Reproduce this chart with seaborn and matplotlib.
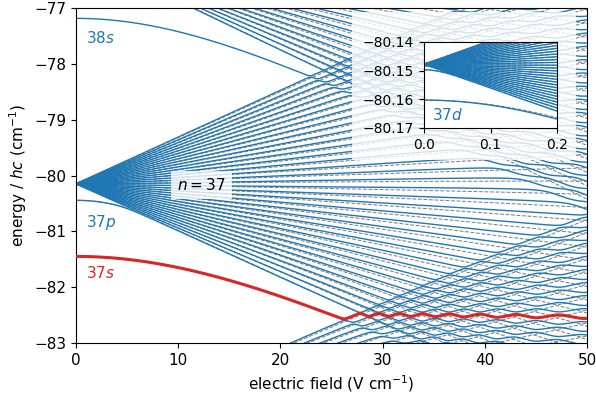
import numpy as np
import pandas as pd
import seaborn as sns
import matplotlib.pyplot as plt
from matplotlib.patches import Rectangle

# helium triplet Stark map around n = 37, computed in an |n, l, m> basis
R_HE = 109722.27            # cm^-1
HARTREE = 219474.63         # cm^-1
F_AU = 5.14220674763e9      # V/cm
n_values = np.arange(34, 42)
defects = [0.2967, 0.0683, 0.00289, 0.00045, 0.00012]   # s, p, d, f, g
field_main = np.linspace(0, 50, 301)
field_inset = np.linspace(0, 0.2, 41)
ylim_main = (-83, -77)
ylim_inset = (-80.17, -80.14)
labels = ['38$s$', '37$p$', '37$s$']
label_y = [-77.63, -80.93, -81.83]
label_colors = ['tab:blue', 'tab:blue', 'tab:red']

plt.rcParams['font.size'] = 11

basis = pd.DataFrame([(n, l) for n in n_values for l in range(n)], columns=['n', 'l'])
basis['nstar'] = basis.n - [defects[l] if l < len(defects) else 0.0 for l in basis.l]
basis['E0'] = -R_HE / basis.nstar ** 2

# radial wavefunctions by Numerov in x = sqrt(r), integrated inwards
nst = basis.nstar.to_numpy()
ls = basis.l.to_numpy()
ns = basis.n.to_numpy()
h = 0.01
xo = np.sqrt(2 * nst * (nst + 15))
x = np.arange(1.0, xo.max() + 3 * h, h)
N, S = len(x), len(nst)
g = ((2 * ls + 0.5) * (2 * ls + 1.5)) / x[:, None] ** 2 - 8 + 4 * x[:, None] ** 2 / nst ** 2
c = 1 - h * h * g / 12
d = 2 + 10 * h * h * g / 12
io = np.searchsorted(x, xo) - 1
Y = np.zeros((N, S))
Y[io, np.arange(S)] = 1e-10
with np.errstate(over='ignore', invalid='ignore'):
    for i in range(N - 2, 0, -1):
        new = (d[i] * Y[i] - c[i + 1] * Y[i + 1]) / c[i - 1]
        Y[i - 1] = np.where(i - 1 < io, new, Y[i - 1])

# cut the diverging part inside the inner turning point
rt = nst ** 2 * (1 - np.sqrt(np.clip(1 - ls * (ls + 1) / nst ** 2, 0, None)))
it = np.searchsorted(x, np.sqrt(rt))
for s in range(S):
    k = np.argmin(np.abs(Y[:it[s] + 1, s]))
    Y[:k, s] = 0.0

norm = 2 * h * np.sum(Y ** 2 * x[:, None] ** 2, axis=0)
A = Y * x[:, None] ** 2 / np.sqrt(norm)
Rmat = 2 * h * A.T @ A

lo = np.minimum(ls[:, None], ls[None, :])
adj = np.abs(ls[:, None] - ls[None, :]) == 1


def stark(fields, m, lim):
    sel = ls >= m
    ang = np.where(adj, np.sqrt(np.clip(((lo + 1) ** 2 - m ** 2) / ((2 * lo + 1) * (2 * lo + 3)), 0, None)), 0.0)
    Z = (Rmat * ang)[np.ix_(sel, sel)] * HARTREE / F_AU
    E0 = basis.E0.to_numpy()[sel]
    vals = np.array([np.linalg.eigvalsh(np.diag(E0) + F * Z) for F in fields])
    # adiabatic level that starts as 37s (or the lowest l for m > 0)
    i37 = np.flatnonzero((ns[sel] == 37) & (ls[sel] == m))[0]
    j37 = int(np.sum(E0 < E0[i37]))
    keep = np.flatnonzero((vals.max(axis=0) > lim[0] - 0.2) & (vals.min(axis=0) < lim[1] + 0.2))
    df = pd.DataFrame({
        'field': np.repeat(fields, len(keep)),
        'energy': vals[:, keep].ravel(),
        'state': np.tile(keep, len(fields)),
    })
    return df, pd.DataFrame({'field': fields, 'energy': vals[:, j37]})


fig = plt.figure(figsize=(5.96, 3.96), dpi=100)
ax = fig.add_axes([0.1275, 0.1338, 0.8574, 0.846])

m1_main, _ = stark(field_main, 1, ylim_main)
m0_main, s37 = stark(field_main, 0, ylim_main)
sns.lineplot(data=m1_main, x='field', y='energy', units='state', estimator=None,
             color='grey', lw=0.75, linestyle='--', ax=ax, legend=False)
sns.lineplot(data=m0_main, x='field', y='energy', units='state', estimator=None,
             color='tab:blue', lw=1.0, ax=ax, legend=False)
sns.lineplot(data=s37, x='field', y='energy', color='tab:red', lw=2.2, ax=ax, legend=False, zorder=3)

ax.set_xlim(0, 50)
ax.set_ylim(*ylim_main)
ax.set_xticks(range(0, 51, 10))
ax.set_yticks(range(-83, -76))
ax.set_xlabel('electric field (V cm$^{-1}$)')
ax.set_ylabel('energy / $hc$ (cm$^{-1}$)')
for txt, yy, col in zip(labels, label_y, label_colors):
    ax.text(1.0, yy, txt, color=col, ha='left', va='baseline')
ax.text(12.3, -80.17, '$n = 37$', ha='center', va='center',
        bbox=dict(boxstyle='square,pad=0.4', facecolor='white', edgecolor='none', alpha=0.8), zorder=4)

# faded backdrop behind the inset
fig.add_artist(Rectangle((352 / 596, 1 - 160 / 396), 224 / 596, 148 / 396, transform=fig.transFigure,
                         facecolor='white', edgecolor='none', alpha=0.8, zorder=1))

axin = fig.add_axes([0.7114, 0.6768, 0.2232, 0.2172])
axin.set_zorder(2)
m1_in, _ = stark(field_inset, 1, ylim_inset)
m0_in, _ = stark(field_inset, 0, ylim_inset)
sns.lineplot(data=m1_in, x='field', y='energy', units='state', estimator=None,
             color='grey', lw=0.75, linestyle='--', ax=axin, legend=False)
sns.lineplot(data=m0_in, x='field', y='energy', units='state', estimator=None,
             color='tab:blue', lw=1.0, ax=axin, legend=False)
axin.set_xlim(0, 0.2)
axin.set_ylim(*ylim_inset)
axin.set_xticks([0, 0.1, 0.2])
axin.set_yticks([-80.14, -80.15, -80.16, -80.17])
axin.ticklabel_format(useOffset=False)
axin.tick_params(labelsize=10)
axin.set_xlabel('')
axin.set_ylabel('')
axin.text(0.012, -80.1655, '37$d$', color='tab:blue', ha='left', va='center')

fig.savefig('out.png', dpi=100)
